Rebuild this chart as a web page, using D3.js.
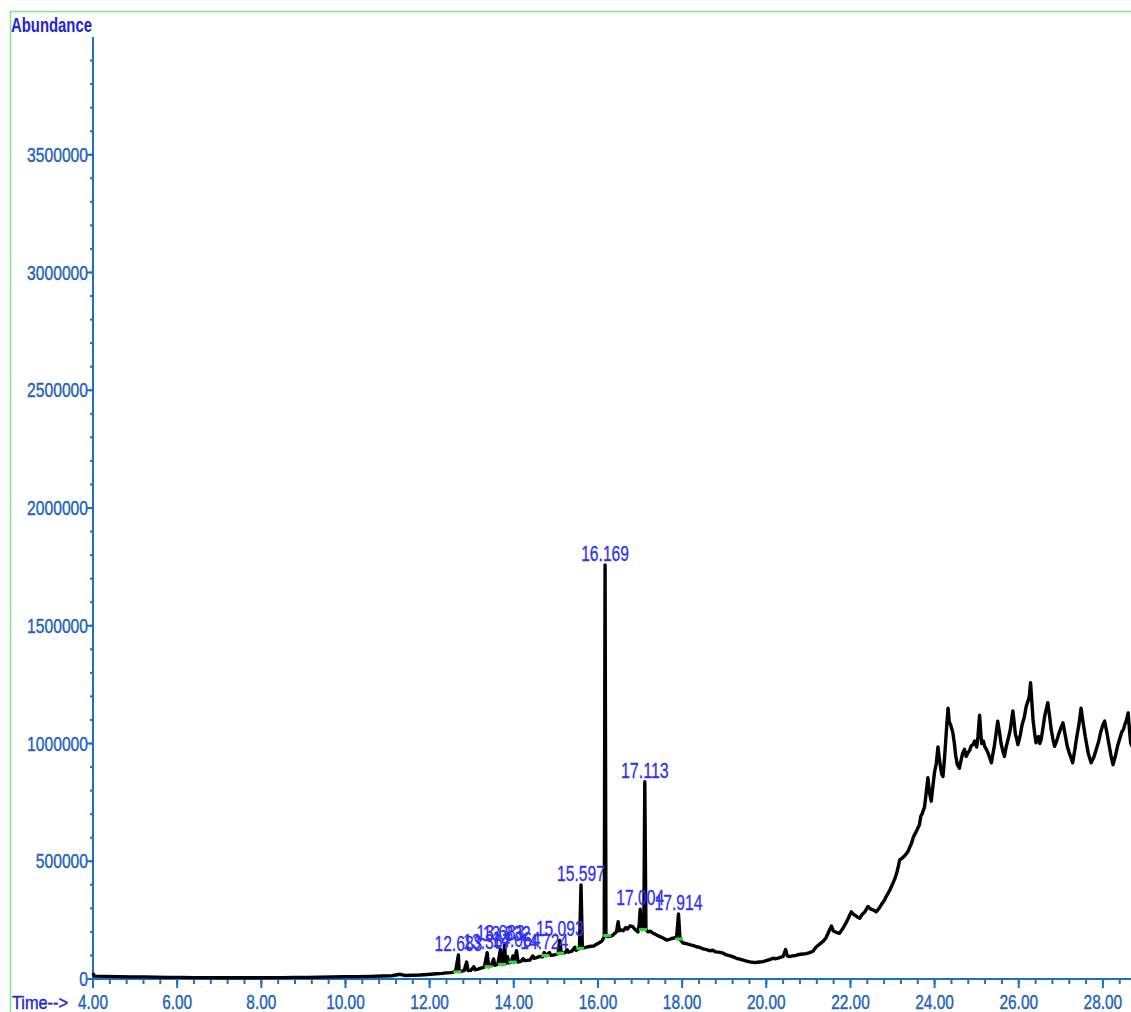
<!DOCTYPE html>
<html lang="en">
<head>
<meta charset="UTF-8"/>
<title>TIC chromatogram</title>
<script src="https://d3js.org/d3.v7.min.js"></script>
<style>
  body { margin: 0; background: #fff; }
  svg { display: block; font-family: "Liberation Sans", Arial, sans-serif; }
</style>
</head>
<body>
<div id="chart"></div>
<script>
    // trace: [retention time (min), abundance in thousands of counts]
    const tracePoints = [
        [4.00, 25], [4.03, 12], [4.3, 11], [4.6, 10], [4.9, 9], [5.2, 9], [5.5, 8], [5.8, 7], [6.1, 7], [6.4, 6], [6.7, 6],
        [7.0, 5], [7.3, 6], [7.6, 5], [7.9, 5], [8.2, 6], [8.5, 6], [8.8, 7], [9.1, 7], [9.4, 8], [9.7, 9], [10.0, 10],
        [10.3, 10], [10.6, 11], [10.9, 13], [11.1, 14], [11.3, 20], [11.4, 15], [11.6, 16], [11.77, 17], [11.95, 19],
        [12.16, 22], [12.30, 24], [12.40, 26], [12.50, 27], [12.55, 28], [12.62, 35], [12.683, 102], [12.70, 32], [12.76, 33],
        [12.82, 36], [12.88, 72], [12.91, 36], [12.98, 37], [13.05, 52], [13.08, 39], [13.15, 42], [13.22, 46], [13.30, 50],
        [13.367, 112], [13.40, 52], [13.46, 56], [13.52, 85], [13.55, 58], [13.62, 63], [13.683, 125], [13.71, 62], [13.75, 66],
        [13.78, 145], [13.81, 66], [13.85, 95], [13.88, 68], [13.94, 72], [13.98, 98], [14.01, 72], [14.064, 120], [14.10, 72],
        [14.18, 76], [14.22, 86], [14.26, 78], [14.38, 80], [14.45, 98], [14.48, 88], [14.56, 92], [14.62, 96], [14.68, 94],
        [14.724, 112], [14.76, 99], [14.85, 112], [14.88, 101], [14.95, 102], [15.01, 105], [15.05, 108], [15.093, 164],
        [15.13, 110], [15.22, 112], [15.27, 124], [15.30, 114], [15.38, 118], [15.45, 135], [15.48, 122], [15.56, 130],
        [15.597, 399], [15.63, 130], [15.68, 133], [15.73, 135], [15.80, 138], [15.90, 140], [15.97, 148], [16.04, 155],
        [16.10, 162], [16.15, 180], [16.169, 1758], [16.19, 190], [16.24, 180], [16.30, 182], [16.35, 185], [16.40, 195],
        [16.44, 200], [16.48, 243], [16.51, 205], [16.56, 208], [16.60, 205], [16.66, 218], [16.70, 212], [16.76, 225],
        [16.83, 222], [16.88, 210], [16.95, 200], [16.98, 230], [17.004, 296], [17.03, 215], [17.06, 210], [17.09, 220],
        [17.113, 838], [17.14, 210], [17.19, 200], [17.25, 203], [17.30, 195], [17.35, 192], [17.39, 187], [17.45, 182],
        [17.50, 178], [17.57, 172], [17.63, 165], [17.70, 168], [17.75, 172], [17.82, 175], [17.87, 180], [17.914, 276],
        [17.95, 168], [18.02, 153], [18.10, 150], [18.20, 145], [18.27, 142], [18.34, 137], [18.42, 134], [18.50, 128],
        [18.58, 125], [18.66, 120], [18.73, 122], [18.80, 115], [18.88, 114], [18.97, 110], [19.03, 104], [19.10, 100],
        [19.20, 95], [19.29, 88], [19.37, 84], [19.45, 80], [19.53, 76], [19.61, 73], [19.68, 71], [19.75, 70], [19.84, 72],
        [19.92, 74], [20.00, 78], [20.08, 82], [20.16, 88], [20.23, 86], [20.30, 90], [20.40, 96], [20.46, 125], [20.50, 98],
        [20.55, 95], [20.62, 98], [20.70, 100], [20.78, 104], [20.87, 106], [20.95, 108], [21.03, 112], [21.11, 118],
        [21.19, 137], [21.27, 148], [21.35, 160], [21.42, 175], [21.50, 207], [21.55, 225], [21.59, 205], [21.66, 198],
        [21.74, 194], [21.82, 215], [21.90, 240], [21.96, 262], [22.02, 285], [22.07, 275], [22.12, 270], [22.17, 262],
        [22.22, 258], [22.28, 275], [22.34, 285], [22.42, 308], [22.47, 298], [22.52, 295], [22.57, 290], [22.61, 285],
        [22.68, 300], [22.75, 320], [22.80, 332], [22.85, 350], [22.93, 375], [23.01, 407], [23.06, 428], [23.10, 450],
        [23.14, 480], [23.17, 505], [23.22, 512], [23.27, 520], [23.32, 530], [23.37, 542], [23.41, 560], [23.45, 575],
        [23.49, 600], [23.52, 612], [23.57, 628], [23.60, 640], [23.64, 655], [23.67, 690], [23.70, 700], [23.73, 715],
        [23.76, 730], [23.80, 790], [23.84, 855], [23.88, 790], [23.92, 755], [23.96, 820], [24.00, 880], [24.04, 915],
        [24.08, 985], [24.11, 940], [24.14, 900], [24.17, 870], [24.20, 860], [24.23, 925], [24.26, 1000], [24.29, 1080],
        [24.32, 1150], [24.35, 1090], [24.38, 1080], [24.41, 1060], [24.43, 1050], [24.47, 1000], [24.50, 950], [24.54, 910],
        [24.59, 895], [24.63, 930], [24.67, 960], [24.71, 975], [24.75, 945], [24.79, 960], [24.83, 970], [24.87, 990],
        [24.91, 995], [24.95, 1010], [25.00, 985], [25.03, 1030], [25.07, 1120], [25.10, 1040], [25.12, 1000], [25.16, 1010],
        [25.19, 988], [25.23, 975], [25.27, 960], [25.31, 940], [25.35, 918], [25.38, 950], [25.42, 990], [25.46, 1040],
        [25.50, 1095], [25.54, 1050], [25.58, 1000], [25.62, 970], [25.66, 945], [25.70, 985], [25.75, 1020], [25.80, 1060],
        [25.83, 1100], [25.86, 1138], [25.89, 1090], [25.92, 1040], [25.95, 1020], [25.98, 995], [26.03, 1030], [26.08, 1080],
        [26.13, 1110], [26.18, 1160], [26.22, 1180], [26.25, 1200], [26.28, 1258], [26.31, 1180], [26.34, 1100], [26.38, 1040],
        [26.41, 1003], [26.44, 1020], [26.47, 1030], [26.50, 1000], [26.53, 1015], [26.57, 1060], [26.62, 1120], [26.66, 1150],
        [26.69, 1173], [26.73, 1120], [26.77, 1060], [26.81, 1020], [26.85, 988], [26.90, 1010], [26.95, 1040], [27.00, 1065],
        [27.05, 1088], [27.10, 1040], [27.15, 990], [27.20, 960], [27.24, 940], [27.28, 918], [27.33, 970], [27.38, 1030],
        [27.43, 1080], [27.48, 1150], [27.52, 1100], [27.58, 1030], [27.62, 990], [27.65, 960], [27.69, 935], [27.72, 918],
        [27.78, 940], [27.85, 980], [27.90, 1010], [27.95, 1050], [28.00, 1080], [28.04, 1095], [28.09, 1050], [28.14, 1000],
        [28.19, 950], [28.24, 910], [28.30, 950], [28.35, 990], [28.40, 1020], [28.45, 1050], [28.49, 1060], [28.52, 1080],
        [28.56, 1100], [28.60, 1130], [28.63, 1060], [28.66, 1000], [28.72, 980]
    ];

    // labelled peaks
    const peakLabels = ["12.683", "13.367", "13.683", "13.832", "14.064", "14.724", "15.093", "15.597", "16.169", "17.004", "17.113", "17.914"];
    const peakTimes = [12.683, 13.367, 13.683, 13.832, 14.064, 14.724, 15.093, 15.597, 16.169, 17.004, 17.113, 17.914];
    const peakAbund = [102, 112, 150, 145, 120, 112, 164, 399, 1758, 296, 838, 276];

    // green integration marks on the baseline
    const markTimes = [12.66, 13.40, 13.72, 13.97, 14.75, 15.10, 15.58, 16.22, 17.07, 17.93];
    const markAbund = [30, 52, 62, 72, 100, 110, 130, 185, 210, 170];

    const xTickValues = [4, 6, 8, 10, 12, 14, 16, 18, 20, 22, 24, 26, 28];
    const yTickValues = [0, 500000, 1000000, 1500000, 2000000, 2500000, 3000000, 3500000];

    const w = 1131, h = 1012;
    const axisColor = "#1f6fc8";
    const labelColor = "#2262bc";

    // width of a narrow-font numeric label
    const numWidth = (s, dw) => s.replace(/\./g, "").length * dw + (s.includes(".") ? 3.8 : 0);

    const svg = d3.select("#chart").append("svg")
        .attr("width", w)
        .attr("height", h);

    svg.append("rect").attr("width", w).attr("height", h).attr("fill", "#fff");

    // green frame (runs off the right and bottom edges)
    svg.append("rect")
        .attr("x", 10.5).attr("y", 11.5)
        .attr("width", w + 20).attr("height", h + 20)
        .attr("fill", "none")
        .attr("stroke", "#77ee77")
        .attr("stroke-width", 1.5);

    const x = d3.scaleLinear().domain([4, 30]).range([93, 93 + 26 * 42.08]);
    const y = d3.scaleLinear().domain([0, 4000000]).range([979, 37]);

    // y axis
    svg.append("line")
        .attr("x1", 93).attr("x2", 93)
        .attr("y1", y(4000000)).attr("y2", y(0))
        .attr("stroke", axisColor).attr("stroke-width", 2);

    svg.selectAll(".ymin")
        .data(d3.range(100000, 4000000, 100000))
        .enter().append("line")
        .attr("x1", 90).attr("x2", 93)
        .attr("y1", d => y(d)).attr("y2", d => y(d))
        .attr("stroke", axisColor).attr("stroke-width", 2);

    svg.selectAll(".ymaj")
        .data(yTickValues)
        .enter().append("line")
        .attr("x1", 87).attr("x2", 93)
        .attr("y1", d => y(d)).attr("y2", d => y(d))
        .attr("stroke", axisColor).attr("stroke-width", 2);

    svg.selectAll(".ylab")
        .data(yTickValues)
        .enter().append("text")
        .attr("x", 88)
        .attr("y", d => y(d))
        .attr("dy", "0.36em")
        .attr("text-anchor", "end")
        .attr("font-size", "19.5px")
        .attr("fill", labelColor)
        .attr("stroke", labelColor).attr("stroke-width", 0.4)
        .attr("textLength", d => numWidth(d3.format("d")(d), 8.7))
        .attr("lengthAdjust", "spacingAndGlyphs")
        .text(d => d3.format("d")(d));

    // x axis
    svg.append("line")
        .attr("x1", 92).attr("x2", w)
        .attr("y1", 979).attr("y2", 979)
        .attr("stroke", axisColor).attr("stroke-width", 2.2);

    svg.selectAll(".xmin")
        .data(d3.range(4.4, 30, 0.4))
        .enter().append("line")
        .attr("x1", d => x(d)).attr("x2", d => x(d))
        .attr("y1", 979).attr("y2", 984)
        .attr("stroke", axisColor).attr("stroke-width", 2);

    svg.selectAll(".xmaj")
        .data(xTickValues)
        .enter().append("line")
        .attr("x1", d => x(d)).attr("x2", d => x(d))
        .attr("y1", 979).attr("y2", 988)
        .attr("stroke", axisColor).attr("stroke-width", 2);

    svg.selectAll(".xlab")
        .data(xTickValues)
        .enter().append("text")
        .attr("x", d => x(d))
        .attr("y", 1009)
        .attr("text-anchor", "middle")
        .attr("font-size", "19.5px")
        .attr("fill", labelColor)
        .attr("stroke", labelColor).attr("stroke-width", 0.4)
        .attr("textLength", d => numWidth(d3.format(".2f")(d), 8.7))
        .attr("lengthAdjust", "spacingAndGlyphs")
        .text(d => d3.format(".2f")(d));

    svg.append("text")
        .attr("x", 11).attr("y", 32)
        .attr("font-size", "19.5px")
        .attr("font-weight", "bold")
        .attr("fill", "#2323d8")
        .attr("textLength", 81)
        .attr("lengthAdjust", "spacingAndGlyphs")
        .text("Abundance");

    svg.append("text")
        .attr("x", 12).attr("y", 1009)
        .attr("font-size", "19px")
        .attr("fill", "#2323d8")
        .attr("stroke", "#2323d8").attr("stroke-width", 0.4)
        .attr("textLength", 56)
        .attr("lengthAdjust", "spacingAndGlyphs")
        .text("Time-->");

    // trace
    svg.append("path")
        .datum(tracePoints)
        .attr("fill", "none")
        .attr("stroke", "#000")
        .attr("stroke-width", 3.4)
        .attr("stroke-linejoin", "round")
        .attr("d", d3.line().x(d => x(d[0])).y(d => y(d[1] * 1000)));

    // integration marks
    svg.selectAll(".mark")
        .data(markTimes)
        .enter().append("line")
        .attr("x1", d => x(d) - 4).attr("x2", d => x(d) + 4)
        .attr("y1", (d, i) => y(markAbund[i] * 1000)).attr("y2", (d, i) => y(markAbund[i] * 1000))
        .attr("stroke", "#33dd33").attr("stroke-width", 3);

    // peak labels
    svg.selectAll(".peak")
        .data(peakLabels)
        .enter().append("text")
        .attr("x", (d, i) => x(peakTimes[i]))
        .attr("y", (d, i) => y(peakAbund[i] * 1000) - 4)
        .attr("text-anchor", "middle")
        .attr("font-size", "22px")
        .attr("fill", "#2f2ff5")
        .attr("stroke", "#2f2ff5").attr("stroke-width", 0.3)
        .attr("textLength", d => numWidth(d, 8.8))
        .attr("lengthAdjust", "spacingAndGlyphs")
        .text(d => d);
</script>
</body>
</html>
